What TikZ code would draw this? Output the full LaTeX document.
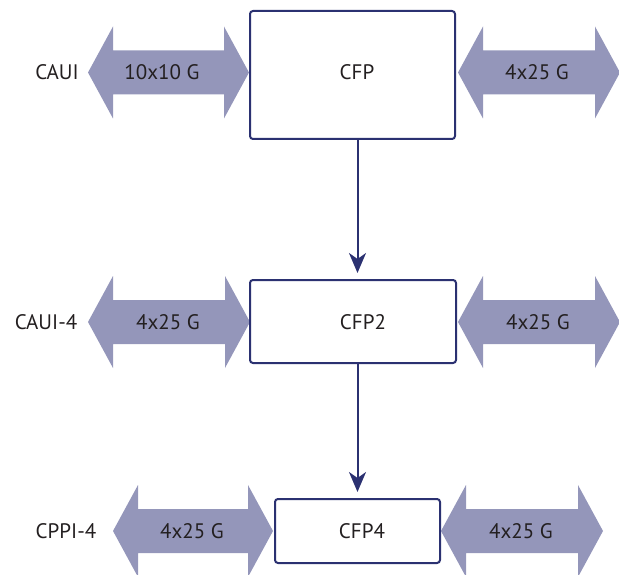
\documentclass[tikz,border=0pt]{standalone}
\usepackage{fontspec}
\setmainfont{PT Sans}
\usetikzlibrary{arrows.meta}
\definecolor{arrowfill}{HTML}{9496BA}
\definecolor{navy}{HTML}{2B3171}
\definecolor{ink}{HTML}{231F20}
\newcommand\dblarrow[3]{%
  \fill[arrowfill] (#1,#3) -- ({#1+25},{#3-46}) -- ({#1+25},{#3-22}) -- ({#2-25},{#3-22})
    -- ({#2-25},{#3-46}) -- (#2,#3) -- ({#2-25},{#3+46}) -- ({#2-25},{#3+22})
    -- ({#1+25},{#3+22}) -- ({#1+25},{#3+46}) -- cycle;}
\tikzset{
  modbox/.style={draw=navy, line width=2pt, rounded corners=3pt, fill=white, inner sep=0pt},
  lbl/.style={text=ink, font=\fontsize{21}{24}\selectfont, inner sep=0pt},
  conn/.style={draw=navy, line width=2pt, -{Stealth[length=20pt,width=17pt,inset=6pt]}, shorten >=6pt}
}
\begin{document}
\begin{tikzpicture}[x=1pt,y=-1pt]
\useasboundingbox (0,0) rectangle (619,575);
% double arrows
\dblarrow{88}{249}{72.5}
\dblarrow{458}{620}{72.5}
\dblarrow{88}{250}{322}
\dblarrow{458}{620}{322}
\dblarrow{113}{273}{531}
\dblarrow{441}{603}{531}
% boxes
\node[modbox, minimum width=205pt, minimum height=128pt] (cfp) at (352.5,75) {};
\node[modbox, minimum width=206pt, minimum height=83pt] (cfp2) at (353,321.5) {};
\node[modbox, minimum width=165pt, minimum height=64pt] (cfp4) at (357.5,531) {};
% box texts
\node[lbl] (tcfp) at (357,72.5) {CFP};
\node[lbl] (tcfp2) at (363,322) {CFP2};
\node[lbl] (tcfp4) at (362,531) {CFP4};
% side labels
\node[lbl] (caui) at (57,72.5) {CAUI};
\node[lbl] (caui4) at (46,322) {CAUI-4};
\node[lbl] (cppi4) at (66,531) {CPPI-4};
% arrow labels
\node[lbl] (a1l) at (162,72.5) {10x10 G};
\node[lbl] (a1r) at (537,72.5) {4x25 G};
\node[lbl] (a2l) at (168,322) {4x25 G};
\node[lbl] (a2r) at (538,322) {4x25 G};
\node[lbl] (a3l) at (192,531) {4x25 G};
\node[lbl] (a3r) at (521,531) {4x25 G};
% connectors
\draw[conn] (cfp.south -| cfp4.center) -- (cfp2.north -| cfp4.center);
\draw[conn] (cfp2.south -| cfp4.center) -- (cfp4.north);
\end{tikzpicture}
\end{document}
